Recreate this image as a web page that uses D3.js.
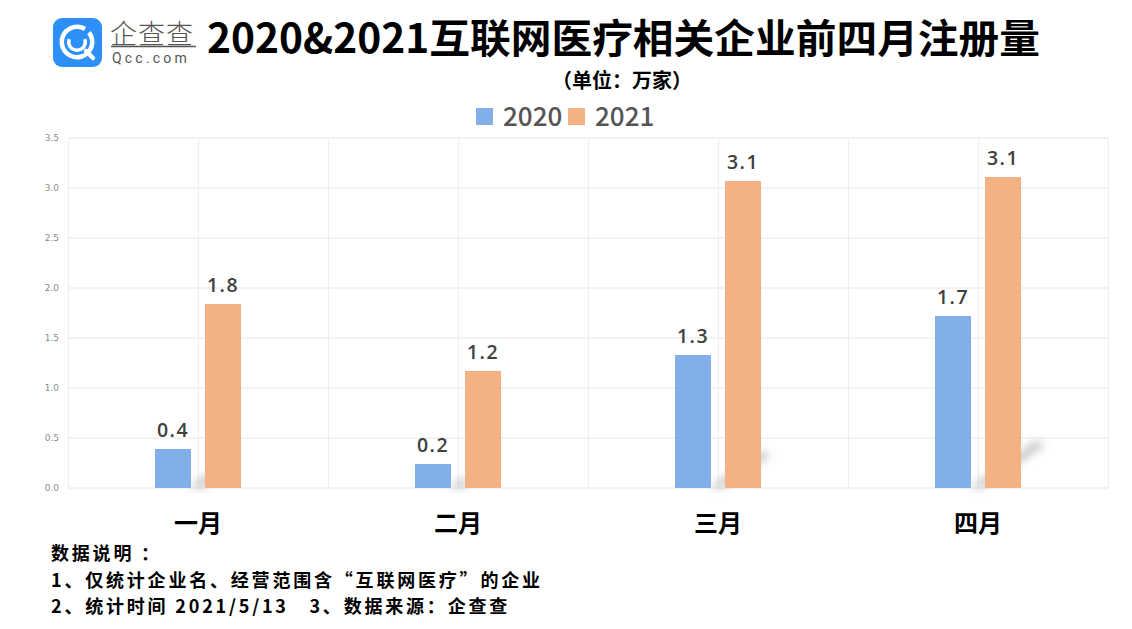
<!DOCTYPE html>
<html>
<head>
<meta charset="utf-8">
<script src="https://cdn.jsdelivr.net/npm/d3@7"></script>
<style>
    body { margin: 0; background: #fff; }
    svg { display: block; font-family: "Noto Sans CJK SC", "Noto Sans", sans-serif; }
</style>
</head>
<body>
<div id="chart"></div>
<script>
// chart values
const months = ["一月", "二月", "三月", "四月"];
const seriesNames = ["2020", "2021"];
const values2020 = [0.39, 0.24, 1.33, 1.72];
const values2021 = [1.84, 1.17, 3.07, 3.11];
const yTicks = [0, 0.5, 1, 1.5, 2, 2.5, 3, 3.5];
const notes = [
    "数据说明 ：",
    "1、仅统计企业名、经营范围含“互联网医疗”的企业",
    "2、统计时间 2021/5/13   3、数据来源：企查查"
];

const colors = {"2020": "#82aeea", "2021": "#f4b183"};
const width = 1132, height = 629;
const margin = {top: 138, right: 24, bottom: 141, left: 68};

let svg = d3.select("#chart").append("svg")
    .attr("width", width)
    .attr("height", height);

// blur for the soft shadows at the bar bases
let defs = svg.append("defs");
defs.append("filter")
    .attr("id", "soft")
    .attr("x", "-50%").attr("y", "-50%")
    .attr("width", "200%").attr("height", "200%")
    .append("feGaussianBlur")
    .attr("stdDeviation", 4);

// logo
let logo = svg.append("g").attr("transform", "translate(53,18)");
logo.append("rect")
    .attr("width", 49).attr("height", 49)
    .attr("rx", 9)
    .attr("fill", "#2c90f6");
logo.append("path")
    .attr("d", d3.arc()({innerRadius: 13, outerRadius: 17.5, startAngle: 0.9, endAngle: 2 * Math.PI + 0.55}))
    .attr("transform", "translate(24,24)")
    .attr("fill", "#fff");
logo.append("path")
    .attr("d", d3.arc()({innerRadius: 6.5, outerRadius: 10, startAngle: 1.2, endAngle: 2 * Math.PI - 1.2}))
    .attr("transform", "translate(24,24)")
    .attr("fill", "#fff");
logo.append("line")
    .attr("x1", 33).attr("y1", 33)
    .attr("x2", 40).attr("y2", 40)
    .attr("stroke", "#fff")
    .attr("stroke-width", 4.5)
    .attr("stroke-linecap", "round");
svg.append("text")
    .attr("x", 110).attr("y", 44)
    .attr("font-size", 27)
    .attr("font-weight", 300)
    .attr("fill", "#555")
    .attr("letter-spacing", 1)
    .text("企查查");
svg.append("line")
    .attr("x1", 111).attr("x2", 196)
    .attr("y1", 46.5).attr("y2", 46.5)
    .attr("stroke", "#555").attr("stroke-width", 1.5);
svg.append("text")
    .attr("x", 112).attr("y", 63)
    .attr("font-size", 14)
    .attr("font-family", "Roboto, sans-serif")
    .attr("fill", "#555")
    .attr("letter-spacing", 3.2)
    .text("Qcc.com");

// title
svg.append("text")
    .attr("x", 207).attr("y", 53)
    .attr("font-size", 40)
    .attr("font-weight", "bold")
    .attr("fill", "#000")
    .attr("textLength", 833)
    .attr("lengthAdjust", "spacingAndGlyphs")
    .text("2020&2021互联网医疗相关企业前四月注册量");
svg.append("text")
    .attr("x", 622).attr("y", 88)
    .attr("text-anchor", "middle")
    .attr("font-size", 20)
    .attr("font-weight", "bold")
    .attr("fill", "#000")
    .text("（单位：万家）");

// legend
let legend = svg.selectAll(".legend")
    .data(seriesNames)
    .enter().append("g")
    .attr("transform", (d, i) => `translate(${476 + i * 92},108)`);
legend.append("rect")
    .attr("width", 17).attr("height", 17)
    .attr("fill", d => colors[d]);
legend.append("text")
    .attr("x", 27).attr("y", 18)
    .attr("font-size", 26)
    .attr("font-weight", 500)
    .attr("fill", "#555")
    .text(d => d);

// scales
let x0 = d3.scaleBand()
    .domain(months)
    .range([margin.left, width - margin.right]);
let x1 = d3.scaleBand()
    .domain(seriesNames)
    .range([x0.bandwidth() / 2 - 43, x0.bandwidth() / 2 + 43])
    .paddingInner(0.28);
let y = d3.scaleLinear()
    .domain([0, 3.5])
    .range([height - margin.bottom, margin.top]);

// grid
let grid = svg.append("g");
grid.selectAll(".hgrid")
    .data(yTicks)
    .enter().append("line")
    .attr("x1", margin.left).attr("x2", width - margin.right)
    .attr("y1", d => y(d)).attr("y2", d => y(d))
    .attr("stroke", "#e6e6e6");
let vLines = [margin.left];
months.forEach(m => {
    vLines.push(x0(m) + x0.bandwidth() / 2);
    vLines.push(x0(m) + x0.bandwidth());
});
grid.selectAll(".vgrid")
    .data(vLines)
    .enter().append("line")
    .attr("x1", d => Math.round(d) + 0.5).attr("x2", d => Math.round(d) + 0.5)
    .attr("y1", margin.top).attr("y2", height - margin.bottom)
    .attr("stroke", "#eeeeee");

// y axis labels
let yAxis = svg.append("g")
    .attr("transform", `translate(${margin.left - 6},0)`)
    .call(d3.axisLeft(y).tickValues(yTicks).tickFormat(d3.format(".1f")).tickSize(0));
yAxis.select(".domain").remove();
yAxis.selectAll("text")
    .attr("font-size", 9)
    .attr("font-family", "'DejaVu Sans', sans-serif")
    .attr("fill", "#8c8c8c");

let rows = months.map((m, i) => ({month: m, "2020": values2020[i], "2021": values2021[i]}));

// shadows behind the 2021 bars
svg.append("g").selectAll("path")
    .data(rows)
    .enter().append("path")
    .attr("d", d => {
        let bx = x0(d.month) + x1("2020") + x1.bandwidth();
        let by = y(0);
        let h = (y(0) - y(d["2020"])) * 0.25;
        return `M${bx - 2},${by} L${bx + 12},${by} L${bx + 10 + h * 1.5},${by - h} L${bx + h * 1.5},${by - h - 4} Z`;
    })
    .attr("fill", "#b0b0b0")
    .attr("opacity", 0.7)
    .attr("filter", "url(#soft)");

// bars
let groups = svg.append("g").selectAll("g")
    .data(rows)
    .enter().append("g")
    .attr("transform", d => `translate(${x0(d.month)},0)`);
groups.selectAll("rect")
    .data(d => seriesNames.map(s => ({key: s, value: d[s]})))
    .enter().append("rect")
    .attr("x", d => x1(d.key))
    .attr("y", d => y(d.value))
    .attr("width", x1.bandwidth())
    .attr("height", d => y(0) - y(d.value))
    .attr("fill", d => colors[d.key]);
groups.selectAll(".lbl")
    .data(d => seriesNames.map(s => ({key: s, value: d[s]})))
    .enter().append("text")
    .attr("x", d => x1(d.key) + x1.bandwidth() / 2)
    .attr("y", d => y(d.value) - 12)
    .attr("text-anchor", "middle")
    .attr("font-size", 19.5)
    .attr("font-family", "'Open Sans', sans-serif")
    .attr("font-weight", 600)
    .attr("letter-spacing", 1.5)
    .attr("fill", "#404040")
    .text(d => d.value.toFixed(1));

// category labels
svg.append("g").selectAll("text")
    .data(months)
    .enter().append("text")
    .attr("x", d => x0(d) + x0.bandwidth() / 2)
    .attr("y", 532)
    .attr("text-anchor", "middle")
    .attr("font-size", 24)
    .attr("font-weight", "bold")
    .attr("fill", "#000")
    .text(d => d);

// notes
svg.append("g").selectAll("text")
    .data(notes)
    .enter().append("text")
    .attr("x", 51)
    .attr("y", (d, i) => 560 + i * 26.5)
    .attr("font-size", 18)
    .attr("font-weight", "bold")
    .attr("letter-spacing", 2.8)
    .attr("fill", "#000")
    .attr("xml:space", "preserve")
    .style("white-space", "pre")
    .text(d => d);
</script>
</body>
</html>
